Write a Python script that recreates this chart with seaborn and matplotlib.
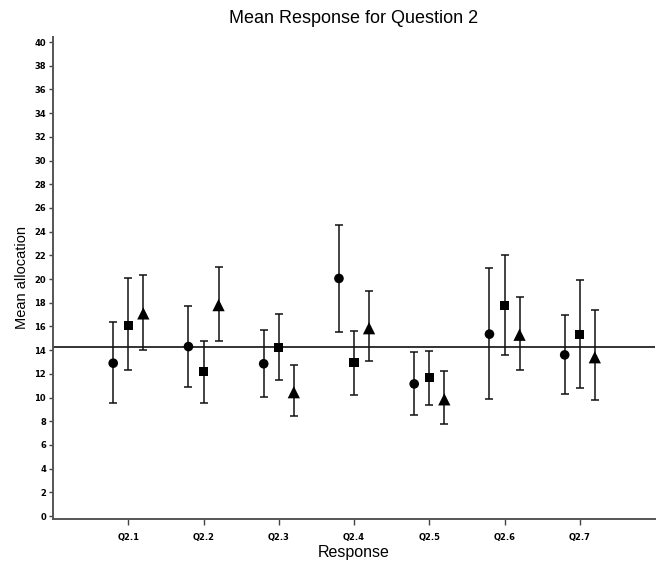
import numpy as np
import pandas as pd
import seaborn as sns
import matplotlib
matplotlib.use('Agg')
import matplotlib.pyplot as plt

questions = ['Q2.1', 'Q2.2', 'Q2.3', 'Q2.4', 'Q2.5', 'Q2.6', 'Q2.7']

# three groups (circle / square / triangle), mean with lower and upper limits
circle_mean = [12.9, 14.3, 12.85, 20.05, 11.15, 15.35, 13.6]
circle_low = [9.5, 10.9, 10.05, 15.55, 8.5, 9.9, 10.3]
circle_high = [16.35, 17.75, 15.7, 24.55, 13.85, 20.9, 16.95]

square_mean = [16.1, 12.2, 14.2, 12.95, 11.7, 17.75, 15.35]
square_low = [12.3, 9.5, 11.5, 10.25, 9.4, 13.55, 10.8]
square_high = [20.05, 14.8, 17.05, 15.65, 13.95, 22.0, 19.95]

triangle_mean = [17.1, 17.8, 10.45, 15.85, 9.85, 15.3, 13.4]
triangle_low = [14.05, 14.75, 8.4, 13.1, 7.75, 12.3, 9.75]
triangle_high = [20.3, 21.0, 12.75, 18.95, 12.2, 18.45, 17.35]

overall_mean = 14.3

groups = {
    'group 1': (circle_mean, circle_low, circle_high),
    'group 2': (square_mean, square_low, square_high),
    'group 3': (triangle_mean, triangle_low, triangle_high),
}
offsets = {'group 1': -0.2, 'group 2': 0.0, 'group 3': 0.2}
markers = {'group 1': 'o', 'group 2': 's', 'group 3': '^'}
sizes = {'group 1': 48, 'group 2': 44, 'group 3': 78}

rows = []
for g, (m, lo, hi) in groups.items():
    for i, q in enumerate(questions):
        rows.append({'question': q, 'group': g, 'pos': i + 1 + offsets[g],
                     'mean': m[i], 'low': lo[i], 'high': hi[i]})
df = pd.DataFrame(rows)

sns.set_style('ticks')
plt.rcParams['font.family'] = ['Liberation Sans', 'DejaVu Sans']
plt.rcParams['text.color'] = 'black'
plt.rcParams['axes.labelcolor'] = 'black'
plt.rcParams['xtick.labelcolor'] = 'black'
plt.rcParams['ytick.labelcolor'] = 'black'

fig = plt.figure(figsize=(6.64, 5.64), dpi=100)
ax = fig.add_axes([53 / 664, 1 - 519 / 564, 602 / 664, (519 - 36.7) / 564])

ax.axhline(overall_mean, color='#333333', lw=1.4, zorder=1)

for g, sub in df.groupby('group'):
    ax.errorbar(sub['pos'], sub['mean'],
                yerr=[sub['mean'] - sub['low'], sub['high'] - sub['mean']],
                fmt='none', ecolor='#111111', elinewidth=1.1,
                capsize=3, capthick=1.1, zorder=2)

sns.scatterplot(data=df, x='pos', y='mean', style='group', markers=markers,
                size='group', sizes=sizes, color='black', edgecolor='black',
                linewidth=0, legend=False, ax=ax, zorder=3)

ax.set_xlim(0, 8)
ax.set_ylim(-0.25, 40.45)
ax.set_xticks(range(1, len(questions) + 1))
ax.set_xticklabels(questions)
ax.set_yticks(range(0, 41, 2))

for lab in ax.get_xticklabels() + ax.get_yticklabels():
    lab.set_fontfamily('DejaVu Sans')
    lab.set_fontweight('bold')
    lab.set_fontsize(6)

ax.tick_params(axis='x', length=4.3, width=1, color='#444444', pad=6)
ax.tick_params(axis='y', length=3, width=1, color='#444444', pad=2)

sns.despine(ax=ax)
for s in ['left', 'bottom']:
    ax.spines[s].set_color('#555555')
    ax.spines[s].set_linewidth(1.4)

ax.set_xlabel('Response', fontsize=11.5, labelpad=2)
ax.set_ylabel('Mean allocation', fontsize=10.5, labelpad=4)
ax.set_title('Mean Response for Question 2', fontsize=13, pad=10)

fig.savefig('out.png', dpi=100)
